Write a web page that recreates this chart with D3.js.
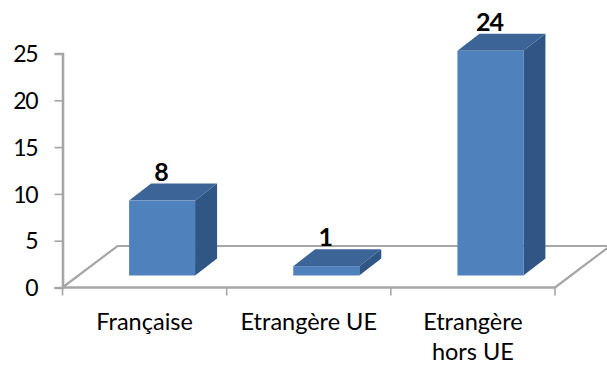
<!DOCTYPE html>
<html>
<head>
<meta charset="utf-8">
<script src="https://cdn.jsdelivr.net/npm/d3@7"></script>
<style>
  html, body { margin: 0; padding: 0; background: #fff; }
  svg { display: block; }
  text { font-family: Lato, "Open Sans", sans-serif; fill: #000; }
</style>
</head>
<body>
<div id="chart"></div>
<script>
const categories = ["Française", "Etrangère UE", "Etrangère hors UE"];
const values = [8, 1, 24];
const yTicks = [0, 5, 10, 15, 20, 25];

const chartW = 607, chartH = 365;
const floorY = 287.5, topY = 53.5, axisX = 62.5, axisEnd = 555;
const depthX = 55, depthY = 41.5;     // floor depth in the oblique projection
const barDepthX = 22, barDepthY = 17; // depth of each column
const barRise = 12, barShift = 17.5;  // column placement on the floor
const barW = 66;
const gray = "#a6a6a6";

const svg = d3.select("#chart").append("svg")
  .attr("width", chartW).attr("height", chartH);

const y = d3.scaleLinear().domain([0, 25]).range([floorY, topY]);
const x = d3.scaleBand().domain(categories).range([axisX, axisEnd]);

// Floor outline and back edge
svg.append("path")
  .attr("d", d3.line()([
    [axisX, floorY], [axisX + depthX, floorY - depthY],
    [axisEnd + depthX, floorY - depthY], [axisEnd, floorY]
  ]))
  .attr("fill", "none").attr("stroke", gray).attr("stroke-width", 2.2);

// Value axis
svg.append("g")
  .attr("transform", `translate(${axisX},0)`)
  .call(d3.axisLeft(y).tickValues(yTicks).tickSize(8).tickPadding(17))
  .call(g => g.select(".domain").attr("stroke", gray).attr("stroke-width", 2.6))
  .call(g => g.selectAll(".tick line").attr("stroke", gray).attr("stroke-width", 1.6))
  .call(g => g.selectAll(".tick text")
    .attr("font-size", 23).attr("font-family", "Lato")
    .attr("letter-spacing", -1.2).attr("dy", "0.36em"));

// Category axis
const catAxis = svg.append("g").attr("transform", `translate(0,${floorY})`);
catAxis.append("line")
  .attr("x1", axisX).attr("x2", axisEnd)
  .attr("stroke", gray).attr("stroke-width", 2.6);
catAxis.selectAll(".cat-tick")
  .data([...categories.map(c => x(c)), axisEnd])
  .join("line")
  .attr("class", "cat-tick")
  .attr("x1", d => d).attr("x2", d => d)
  .attr("y1", 0).attr("y2", 8)
  .attr("stroke", gray).attr("stroke-width", 1.6);

// Category labels, with the long one on two lines
const labelLines = [["Française"], ["Etrangère UE"], ["Etrangère", "hors UE"]];
svg.selectAll(".cat-label")
  .data(categories)
  .join("text")
  .attr("class", "cat-label")
  .attr("text-anchor", "middle")
  .attr("font-size", 23.5)
  .each(function (d, i) {
    d3.select(this).selectAll("tspan")
      .data(labelLines[i])
      .join("tspan")
      .attr("x", x(d) + x.bandwidth() / 2)
      .attr("y", (_, k) => 330 + k * 30)
      .text(t => t);
  });

// Columns: side, top and front faces
const baseY = floorY - barRise;
const bars = svg.selectAll(".bar")
  .data(categories.map((c, i) => ({ c, v: values[i] })))
  .join("g")
  .attr("class", "bar");

const barLeft = d => x(d.c) + x.bandwidth() / 2 - barW / 2 + barShift;
const barTop = d => baseY - (floorY - y(d.v));

bars.append("path")
  .attr("fill", "#2f5685")
  .attr("d", d => d3.line()([
    [barLeft(d) + barW, barTop(d)], [barLeft(d) + barW + barDepthX, barTop(d) - barDepthY],
    [barLeft(d) + barW + barDepthX, baseY - barDepthY], [barLeft(d) + barW, baseY]
  ]) + "Z");
bars.append("path")
  .attr("fill", "#3d6496")
  .attr("d", d => d3.line()([
    [barLeft(d), barTop(d)], [barLeft(d) + barDepthX, barTop(d) - barDepthY],
    [barLeft(d) + barW + barDepthX, barTop(d) - barDepthY], [barLeft(d) + barW, barTop(d)]
  ]) + "Z");
bars.append("rect")
  .attr("fill", "#4f81bd")
  .attr("x", barLeft).attr("y", barTop)
  .attr("width", barW).attr("height", d => baseY - barTop(d));

// Value labels above each column
bars.append("text")
  .attr("text-anchor", "middle")
  .attr("font-size", 25).attr("font-weight", 700)
  .attr("letter-spacing", -1)
  .attr("x", d => barLeft(d) + barW / 2 - 1)
  .attr("y", d => barTop(d) - barDepthY - 3)
  .text(d => d.v);
</script>
</body>
</html>
